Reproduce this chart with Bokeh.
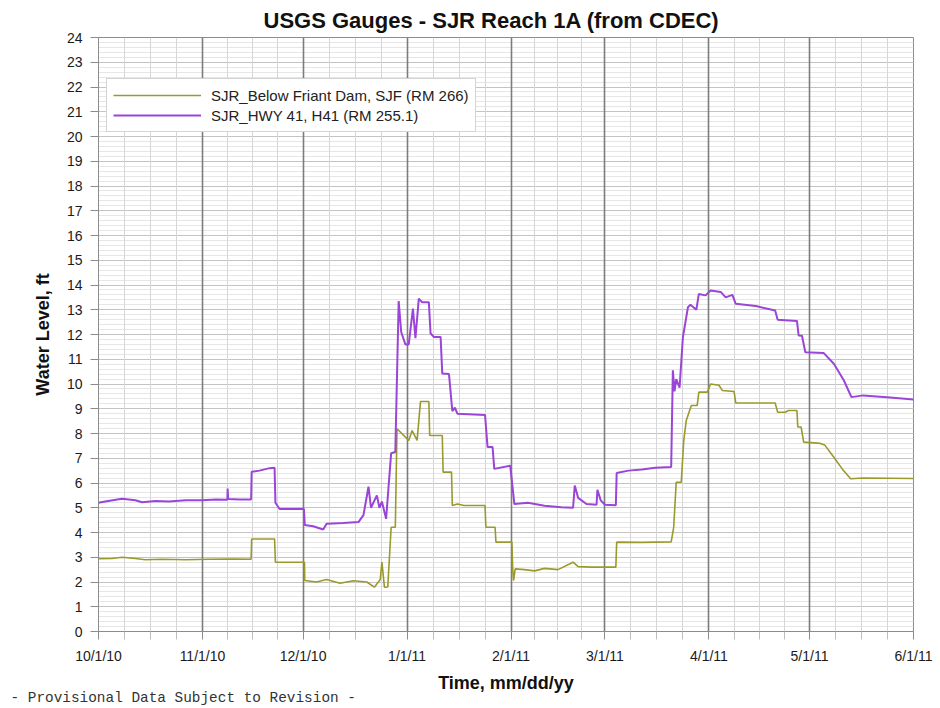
import pandas as pd
from bokeh.plotting import figure
from bokeh.models import (Range1d, FixedTicker, DatetimeTickFormatter, Title,
                          Legend, LegendItem, ColumnDataSource)
from bokeh.embed import file_html
from bokeh.resources import INLINE

# ---------------- data ----------------
title_text = "USGS Gauges - SJR Reach 1A (from CDEC)"
x_label = "Time, mm/dd/yy"
y_label = "Water Level, ft"
footer_text = "- Provisional Data Subject to Revision -"
series_names = ["SJR_Below Friant Dam, SJF (RM 266)", "SJR_HWY 41, H41 (RM 255.1)"]

month_ticks = ["2010-10-01", "2010-11-01", "2010-12-01", "2011-01-01", "2011-02-01",
               "2011-03-01", "2011-04-01", "2011-05-01", "2011-06-01"]

h41_times = [
    "2010-10-01 00:00", "2010-10-03 00:00", "2010-10-08 00:00", "2010-10-12 00:00",
    "2010-10-14 00:00", "2010-10-18 00:00", "2010-10-22 00:00", "2010-10-27 00:00",
    "2010-11-01 00:00", "2010-11-05 00:00", "2010-11-08 10:00", "2010-11-08 12:00",
    "2010-11-08 16:00", "2010-11-12 00:00", "2010-11-15 12:00", "2010-11-15 16:00",
    "2010-11-18 00:00", "2010-11-21 00:00", "2010-11-22 12:00", "2010-11-22 18:00",
    "2010-11-24 00:00", "2010-12-01 06:00", "2010-12-01 12:00", "2010-12-04 00:00",
    "2010-12-07 00:00", "2010-12-08 00:00", "2010-12-13 00:00", "2010-12-17 12:00",
    "2010-12-19 00:00", "2010-12-20 12:00", "2010-12-21 06:00", "2010-12-23 00:00",
    "2010-12-23 18:00", "2010-12-24 12:00", "2010-12-25 18:00", "2010-12-27 06:00",
    "2010-12-28 12:00", "2010-12-29 12:00", "2010-12-30 06:00", "2010-12-31 12:00",
    "2011-01-01 12:00", "2011-01-02 18:00", "2011-01-03 12:00", "2011-01-04 12:00",
    "2011-01-05 12:00", "2011-01-07 12:00", "2011-01-08 00:00", "2011-01-09 00:00",
    "2011-01-11 00:00", "2011-01-11 12:00", "2011-01-13 12:00", "2011-01-14 12:00",
    "2011-01-15 06:00", "2011-01-16 00:00", "2011-01-24 06:00", "2011-01-25 00:00",
    "2011-01-26 12:00", "2011-01-27 00:00", "2011-01-31 18:00", "2011-02-02 00:00",
    "2011-02-06 00:00", "2011-02-11 00:00", "2011-02-16 00:00", "2011-02-19 12:00",
    "2011-02-20 00:00", "2011-02-21 00:00", "2011-02-23 12:00", "2011-02-26 12:00",
    "2011-02-26 18:00", "2011-02-27 18:00", "2011-03-01 00:00", "2011-03-04 06:00",
    "2011-03-04 12:00", "2011-03-08 00:00", "2011-03-12 00:00", "2011-03-16 00:00",
    "2011-03-20 18:00", "2011-03-21 06:00", "2011-03-21 18:00", "2011-03-22 06:00",
    "2011-03-23 06:00", "2011-03-24 06:00", "2011-03-25 18:00", "2011-03-26 12:00",
    "2011-03-28 06:00", "2011-03-29 00:00", "2011-03-31 00:00", "2011-04-01 12:00",
    "2011-04-04 12:00", "2011-04-06 00:00", "2011-04-08 00:00", "2011-04-09 00:00",
    "2011-04-15 00:00", "2011-04-20 18:00", "2011-04-21 12:00", "2011-04-27 06:00",
    "2011-04-27 18:00", "2011-04-28 18:00", "2011-04-29 18:00", "2011-05-05 06:00",
    "2011-05-08 06:00", "2011-05-11 06:00", "2011-05-13 12:00", "2011-05-17 00:00",
    "2011-05-25 00:00", "2011-06-01 00:00",
]
h41_level = [
    5.20, 5.25, 5.36, 5.30,
    5.22, 5.27, 5.25, 5.30,
    5.30, 5.33, 5.32, 5.78,
    5.35, 5.33, 5.33, 6.45,
    6.50, 6.60, 6.62, 5.20,
    4.95, 4.95, 4.30, 4.25,
    4.12, 4.35, 4.38, 4.42,
    4.70, 5.85, 5.00, 5.50,
    5.00, 5.25, 4.55, 7.20,
    7.25, 13.35, 12.10, 11.60,
    11.60, 13.05, 11.85, 13.45,
    13.30, 13.30, 12.05, 11.90,
    11.90, 10.42, 10.40, 8.90,
    9.05, 8.80, 8.75, 7.45,
    7.45, 6.57, 6.70, 5.15,
    5.20, 5.08, 5.02, 5.00,
    5.90, 5.40, 5.15, 5.12,
    5.72, 5.30, 5.12, 5.10,
    6.40, 6.50, 6.55, 6.62,
    6.65, 10.55, 9.70, 10.20,
    9.85, 11.90, 13.10, 13.20,
    13.00, 13.64, 13.58, 13.78,
    13.72, 13.50, 13.60, 13.24,
    13.15, 12.97, 12.60, 12.55,
    11.96, 11.95, 11.28, 11.25,
    10.82, 10.14, 9.47, 9.54,
    9.45, 9.37,
]

sjf_times = [
    "2010-10-01 00:00", "2010-10-05 00:00", "2010-10-08 00:00", "2010-10-12 00:00",
    "2010-10-15 00:00", "2010-10-20 00:00", "2010-10-27 00:00", "2010-11-03 00:00",
    "2010-11-10 00:00", "2010-11-15 12:00", "2010-11-15 16:00", "2010-11-22 12:00",
    "2010-11-22 18:00", "2010-12-01 10:00", "2010-12-01 12:00", "2010-12-05 00:00",
    "2010-12-08 00:00", "2010-12-12 00:00", "2010-12-16 00:00", "2010-12-20 00:00",
    "2010-12-22 06:00", "2010-12-24 00:00", "2010-12-24 12:00", "2010-12-25 06:00",
    "2010-12-26 06:00", "2010-12-27 06:00", "2010-12-28 12:00", "2010-12-29 00:00",
    "2011-01-01 12:00", "2011-01-02 12:00", "2011-01-04 00:00", "2011-01-05 00:00",
    "2011-01-07 12:00", "2011-01-07 18:00", "2011-01-11 12:00", "2011-01-11 18:00",
    "2011-01-14 06:00", "2011-01-14 12:00", "2011-01-16 00:00", "2011-01-18 00:00",
    "2011-01-24 06:00", "2011-01-24 12:00", "2011-01-27 06:00", "2011-01-27 12:00",
    "2011-02-01 06:00", "2011-02-01 12:00", "2011-02-01 18:00", "2011-02-02 06:00",
    "2011-02-05 00:00", "2011-02-08 00:00", "2011-02-11 00:00", "2011-02-15 00:00",
    "2011-02-19 12:00", "2011-02-21 00:00", "2011-02-25 00:00", "2011-03-04 06:00",
    "2011-03-04 12:00", "2011-03-12 00:00", "2011-03-20 18:00", "2011-03-21 12:00",
    "2011-03-22 06:00", "2011-03-23 18:00", "2011-03-24 12:00", "2011-03-25 06:00",
    "2011-03-26 18:00", "2011-03-28 12:00", "2011-03-29 00:00", "2011-03-31 12:00",
    "2011-04-01 12:00", "2011-04-04 00:00", "2011-04-05 00:00", "2011-04-08 12:00",
    "2011-04-09 00:00", "2011-04-20 18:00", "2011-04-21 12:00", "2011-04-23 18:00",
    "2011-04-24 18:00", "2011-04-27 06:00", "2011-04-27 12:00", "2011-04-28 12:00",
    "2011-04-29 06:00", "2011-05-04 06:00", "2011-05-05 12:00", "2011-05-08 06:00",
    "2011-05-10 18:00", "2011-05-13 06:00", "2011-05-17 00:00", "2011-06-01 00:00",
]
sjf_level = [
    2.94, 2.95, 3.00, 2.95,
    2.90, 2.92, 2.90, 2.92,
    2.93, 2.92, 3.74, 3.74,
    2.80, 2.80, 2.06, 2.00,
    2.10, 1.95, 2.05, 2.00,
    1.79, 2.10, 2.80, 1.79,
    1.80, 4.21, 4.21, 8.19,
    7.72, 8.12, 7.72, 9.29,
    9.29, 7.92, 7.92, 6.44,
    6.44, 5.09, 5.15, 5.09,
    5.09, 4.21, 4.21, 3.61,
    3.61, 2.53, 2.06, 2.53,
    2.50, 2.45, 2.55, 2.50,
    2.80, 2.62, 2.60, 2.60,
    3.61, 3.60, 3.62, 4.21,
    6.03, 6.03, 7.72, 8.53,
    9.13, 9.13, 9.67, 9.67,
    10.00, 9.95, 9.74, 9.70,
    9.23, 9.23, 8.86, 8.86,
    8.93, 8.93, 8.26, 8.26,
    7.65, 7.60, 7.54, 7.04,
    6.57, 6.17, 6.20, 6.18,
]

# ---------------- styling ----------------
OLIVE = "#9a9a2c"
PURPLE = "#9b45d8"
FONT = "Liberation Sans"

month_dt = pd.to_datetime(month_ticks)
major_ms = [t.value / 1e6 for t in month_dt]
minor_ms = []
for a, b in zip(major_ms[:-1], major_ms[1:]):
    for k in (1, 2, 3):
        minor_ms.append(a + (b - a) * k / 4)

p = figure(x_axis_type="datetime", output_backend="svg", toolbar_location=None,
           frame_width=815, frame_height=594,
           min_border_left=98, min_border_right=23, min_border_top=37, min_border_bottom=77,
           x_range=Range1d(month_dt[0], month_dt[-1]), y_range=Range1d(0, 24),
           background_fill_color="white", border_fill_color="white")

src_sjf = ColumnDataSource(dict(t=pd.to_datetime(sjf_times), v=sjf_level))
src_h41 = ColumnDataSource(dict(t=pd.to_datetime(h41_times), v=h41_level))
r1 = p.line("t", "v", source=src_sjf, line_color=OLIVE, line_width=1.6)
r2 = p.line("t", "v", source=src_h41, line_color=PURPLE, line_width=2.0)

# axes
xa = p.xaxis[0]
xa.ticker = FixedTicker(ticks=major_ms, minor_ticks=minor_ms)
fmt = "%-m/%-d/%y"
xa.formatter = DatetimeTickFormatter(milliseconds=fmt, seconds=fmt, minsec=fmt, minutes=fmt,
                                     hourmin=fmt, hours=fmt, days=fmt, months=fmt, years=fmt)
ya = p.yaxis[0]
ya.ticker = FixedTicker(ticks=list(range(0, 25)), minor_ticks=[i * 0.2 for i in range(121)])

for ax in (xa, ya):
    ax.axis_line_color = "#8c8c8c"
    ax.major_tick_line_color = "#8c8c8c"
    ax.minor_tick_line_color = "#bdbdbd"
    ax.major_tick_in = 0
    ax.major_tick_out = 8
    ax.major_label_standoff = 8
    ax.major_label_text_font = FONT
    ax.major_label_text_font_size = "14px"
    ax.major_label_text_color = "#1a1a1a"
    ax.axis_label_text_font = FONT
    ax.axis_label_text_font_size = "18px"
    ax.axis_label_text_font_style = "bold"
    ax.axis_label_text_color = "#111111"
xa.minor_tick_in = 0
xa.minor_tick_out = 8
ya.minor_tick_in = 0
ya.minor_tick_out = 0
ya.axis_label = y_label
ya.axis_label_standoff = 11

# grids
p.xgrid.grid_line_color = "#7c7c7c"
p.xgrid.grid_line_width = 1.6
p.xgrid.minor_grid_line_color = "#d6d6d6"
p.ygrid.grid_line_color = "#c4c4c4"
p.ygrid.minor_grid_line_color = "#e6e6e6"
p.center = [p.ygrid[0], p.xgrid[0]] + [c for c in p.center if c not in (p.ygrid[0], p.xgrid[0])]
p.outline_line_color = "#8c8c8c"

# legend
legend = Legend(items=[LegendItem(label=series_names[0], renderers=[r1]),
                       LegendItem(label=series_names[1], renderers=[r2])],
                location=(8, 499), padding=6, spacing=0, margin=0,
                glyph_width=88, glyph_height=20, label_height=20, label_standoff=10,
                label_text_font=FONT, label_text_font_size="15px", label_text_color="#222222",
                border_line_color="#aaaaaa", border_line_width=1,
                background_fill_color="white", background_fill_alpha=1.0)
p.add_layout(legend)

# title (above), x-axis title and footer (below)
p.title = Title(text=title_text, align="left", offset=165, standoff=9,
                text_font=FONT, text_font_size="22px", text_font_style="bold",
                text_color="#111111")
p.add_layout(Title(text=x_label, align="center", standoff=8, text_font=FONT,
                   text_font_size="18px", text_font_style="bold", text_color="#111111"),
             "below")
p.add_layout(Title(text=footer_text, align="left", offset=-88, standoff=-18,
                   text_font="Liberation Mono", text_font_size="14.4px",
                   text_font_style="normal", text_color="#333333"), "below")

open("out.html", "w").write(file_html(p, INLINE))
